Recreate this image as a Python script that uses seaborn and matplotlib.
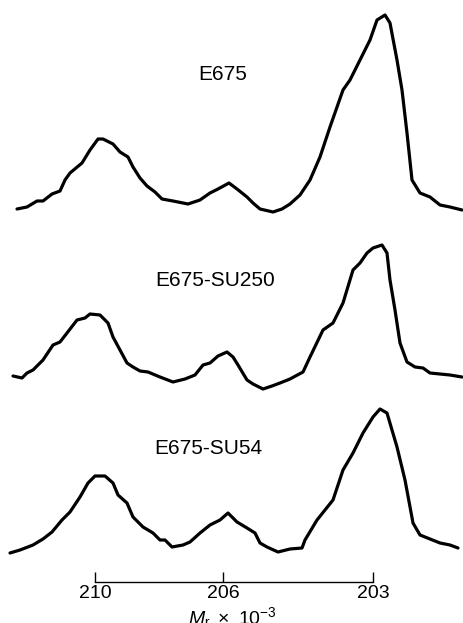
import numpy as np
import pandas as pd
import matplotlib
matplotlib.use("Agg")
import matplotlib.pyplot as plt
import seaborn as sns

# Densitometer scans: scan position and optical density above each trace's baseline
e675_pos = [17, 27, 37, 43, 52, 60, 65, 70, 82, 90, 98, 103, 113, 120, 128, 133, 140, 147,
            155, 162, 173, 188, 200, 210, 218, 229, 237, 247, 253, 260, 273, 282, 290, 300,
            310, 320, 330, 343, 350, 360, 370, 377, 385, 390, 397, 402, 407, 412, 420, 430,
            440, 450, 462]
e675_od = [3, 5, 11, 11, 18, 21, 32, 39, 49, 62, 73, 73, 68, 60, 55, 45, 34, 26,
           20, 13, 11, 8, 12, 19, 23, 29, 23, 15, 9, 3, 0, 3, 8, 17,
           32, 55, 85, 122, 132, 152, 172, 192, 197, 189, 152, 122, 79, 32, 19, 15,
           7, 5, 2]

su250_pos = [13, 22, 27, 33, 43, 53, 60, 67, 77, 85, 90, 100, 108, 113, 120, 127, 133, 140,
             148, 160, 173, 185, 195, 203, 210, 218, 227, 233, 238, 247, 253, 263, 272, 280,
             290, 303, 310, 323, 333, 343, 353, 360, 367, 373, 382, 387, 390, 395, 400, 407,
             415, 423, 430, 440, 450, 462]
su250_od = [14, 12, 17, 20, 30, 45, 48, 57, 70, 72, 76, 75, 67, 53, 40, 27, 23, 19,
            18, 13, 8, 11, 15, 25, 27, 34, 38, 33, 25, 10, 6, 1, 4, 7,
            11, 18, 33, 60, 67, 87, 120, 127, 137, 142, 145, 137, 110, 80, 47, 28,
            23, 22, 17, 16, 15, 13]

su54_pos = [10, 20, 33, 43, 52, 62, 70, 80, 88, 95, 105, 113, 118, 127, 133, 143, 153, 160,
            165, 172, 183, 190, 200, 210, 220, 228, 237, 247, 255, 260, 267, 278, 290, 302,
            305, 317, 333, 343, 353, 363, 373, 380, 387, 397, 405, 413, 420, 430, 440, 450,
            458]
su54_od = [2, 5, 10, 16, 23, 35, 43, 58, 72, 79, 79, 72, 60, 52, 38, 28, 22, 15,
           15, 8, 10, 13, 22, 30, 35, 42, 33, 27, 22, 12, 8, 3, 6, 7,
           15, 35, 55, 85, 102, 122, 138, 146, 142, 108, 75, 32, 20, 16, 12, 10,
           7]

strain_names = ["E675", "E675-SU250", "E675-SU54"]

# Molecular-weight markers along the scan axis
marker_pos = [95, 223, 373]
marker_labels = ["210", "206", "203"]

# Vertical stacking of the three traces and placement of their names
baselines = [411, 233, 68]
name_xy = [(223, 548), (215, 343), (208, 175)]

frames = []
for name, pos, od, base in zip(strain_names,
                               [e675_pos, su250_pos, su54_pos],
                               [e675_od, su250_od, su54_od],
                               baselines):
    frames.append(pd.DataFrame({"pos": pos,
                                "y": np.asarray(od) + base,
                                "strain": name}))
scans = pd.concat(frames, ignore_index=True)

sns.set_style("white")
plt.rcParams["font.family"] = ["Liberation Sans", "DejaVu Sans"]
plt.rcParams["mathtext.fontset"] = "custom"
plt.rcParams["mathtext.rm"] = "Liberation Sans"
plt.rcParams["mathtext.it"] = "Liberation Sans:italic"

fig = plt.figure(figsize=(4.63, 6.23), dpi=100)
ax = fig.add_axes([0, 0, 1, 1])

sns.lineplot(data=scans, x="pos", y="y", units="strain", estimator=None,
             sort=False, color="black", linewidth=2.3, ax=ax, legend=False)
for line in ax.get_lines():
    line.set_solid_capstyle("round")
    line.set_solid_joinstyle("round")

for name, (tx, ty) in zip(strain_names, name_xy):
    ax.text(tx, ty, name, ha="center", va="center", fontsize=15, color="black")

ax.set_xlim(0, 463)
ax.set_ylim(0, 623)

# Marker bracket drawn with the x axis itself
for side in ["top", "left", "right"]:
    ax.spines[side].set_visible(False)
ax.spines["bottom"].set_position(("data", 41))
ax.spines["bottom"].set_bounds(marker_pos[0], marker_pos[-1])
ax.spines["bottom"].set_linewidth(1.0)
ax.spines["bottom"].set_color("black")
ax.set_xticks(marker_pos)
ax.set_xticklabels(marker_labels)
ax.tick_params(axis="x", direction="in", length=7, width=1.0, pad=2.5,
               labelsize=14, colors="black", bottom=True)
ax.set_yticks([])
ax.set_ylabel("")
ax.set_xlabel(r"$M_\mathrm{r}\ \times\ 10^{-3}$", fontsize=14, color="black")
ax.xaxis.set_label_coords(232 / 463, 18 / 623)
ax.xaxis.label.set_va("top")

fig.savefig("out.png", dpi=100, facecolor="white")
